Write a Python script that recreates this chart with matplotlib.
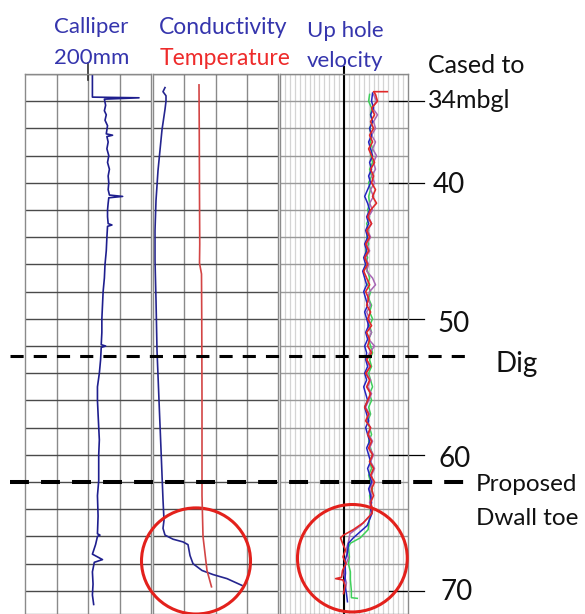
import numpy as np
import matplotlib
matplotlib.use("Agg")
import matplotlib.pyplot as plt
from matplotlib.patches import Ellipse
from matplotlib.transforms import blended_transform_factory

plt.rcParams["font.family"] = ["Lato", "DejaVu Sans"]

# Calliper log (depth m bgl, diameter mm)
cal_depth = [32.0, 33.7, 33.75, 33.85, 34.3, 34.7, 35.0, 35.4, 35.8, 36.4, 36.5, 36.6,
             37.0, 37.5, 38.0, 38.5, 39.0, 39.5, 40.0, 40.5, 40.9, 41.0, 41.1, 41.5,
             42.0, 42.5, 43.0, 43.1, 43.2, 44.0, 45.0, 46.0, 47.0, 48.0, 49.0, 50.0,
             51.0, 51.9, 52.0, 52.1, 53.0, 54.0, 55.0, 56.0, 57.0, 58.9, 60.0, 61.9,
             63.0, 64.5, 65.8, 65.9, 66.0, 66.6, 67.3, 67.7, 67.9, 68.6, 69.5, 70.3, 71.0]
cal_mm = [207, 207, 281, 226, 228, 226, 229, 227, 231, 229, 239, 230,
          232, 230, 233, 231, 234, 232, 233, 232, 234, 255, 233, 232,
          231, 231, 232, 238, 231, 230, 229, 227, 226, 224, 223, 222,
          222, 221, 228, 221, 220, 218, 215, 215, 216, 218, 217, 217,
          215, 216, 215, 219, 215, 212, 207, 223, 210, 207, 208, 207, 209]

# Conductivity (uS/cm)
cond_depth = [33.0, 33.3, 33.6, 34.0, 34.6, 36.1, 37.6, 39.1, 41.3, 43.5, 45.7, 48.6,
              52.3, 56.0, 59.6, 63.3, 64.8, 65.4, 65.9, 66.2, 66.4, 66.6, 67.4, 68.0,
              68.5, 68.8, 69.1, 69.6]
cond_val = [192, 160, 208, 208, 192, 144, 112, 80, 48, 32, 32, 48,
            64, 96, 128, 160, 176, 160, 192, 320, 480, 560, 592, 640,
            784, 960, 1184, 1424]

# Temperature (degC)
temp_depth = [32.8, 36.0, 41.0, 44.5, 45.9, 46.7, 50.0, 56.0, 63.0, 66.0, 68.5, 69.7]
temp_val = [13.84, 13.85, 13.86, 13.87, 13.86, 13.94, 13.95, 13.96, 13.96, 14.0, 14.16, 14.34]

# Up hole velocity, several runs (0.5 m steps from 33.5 to 63.5 m, then the base)
vel_depth = np.arange(33.5, 64.0, 0.5)
vel_red = [6.4, 6.8, 5.6, 6.2, 5.4, 6.0, 5.2, 5.8, 5.0, 5.6,
           6.2, 5.4, 6.0, 5.6, 6.4, 5.8, 6.6, 5.4, 4.8, 5.6,
           4.6, 5.2, 4.4, 5.0, 4.2, 4.8, 4.0, 4.6, 5.2, 4.4,
           5.0, 4.6, 5.4, 4.8, 5.6, 4.6, 5.2, 4.8, 5.6, 4.6,
           5.4, 4.4, 5.2, 4.6, 5.4, 4.8, 4.2, 5.0, 4.4, 5.4,
           4.8, 5.6, 5.0, 5.8, 5.2, 6.0, 5.4, 6.2, 5.6, 6.0,
           5.4]
vel_blue = [5.8, 5.6, 6.0, 5.4, 5.8, 5.2, 5.6, 5.0, 5.4, 5.8,
            5.2, 5.6, 5.0, 5.4, 4.8, 4.2, 4.8, 5.2, 4.6, 5.0,
            4.4, 4.8, 4.2, 4.6, 4.0, 4.4, 3.8, 4.2, 4.6, 4.0,
            4.4, 4.8, 4.2, 4.6, 5.0, 4.4, 4.8, 4.2, 4.6, 4.4,
            4.8, 4.2, 4.6, 4.0, 4.4, 4.8, 4.2, 4.6, 5.0, 4.4,
            4.8, 5.2, 4.6, 5.0, 5.4, 4.8, 5.2, 5.6, 5.0, 5.4,
            5.6]
vel_green = [5.2, 5.0, 5.6, 5.4, 5.8, 5.2, 5.6, 5.4, 5.8, 5.4,
             5.8, 5.2, 5.6, 5.0, 5.4, 5.0, 5.2, 4.8, 5.2, 4.6,
             5.0, 4.6, 5.0, 4.4, 4.8, 4.4, 4.8, 5.2, 4.8, 5.4,
             5.0, 5.6, 5.2, 5.8, 5.2, 5.6, 5.0, 5.4, 5.8, 5.2,
             5.6, 5.0, 5.4, 5.8, 5.2, 5.6, 5.0, 5.4, 4.8, 5.2,
             5.6, 5.0, 5.4, 5.8, 5.2, 5.6, 5.0, 5.4, 5.8, 5.2,
             5.4]
vel_purple = [6.0, 6.6, 5.8, 6.8, 6.0, 6.4, 5.6, 6.4, 5.8, 6.6,
              6.0, 6.4, 5.6, 6.2, 5.4, 6.0, 5.2, 5.8, 5.0, 5.6,
              4.8, 5.4, 4.6, 5.2, 4.4, 5.0, 4.6, 5.8, 6.4, 5.2,
              4.8, 5.4, 4.6, 5.2, 4.8, 5.6, 5.0, 6.2, 5.2, 4.6,
              5.2, 4.6, 5.4, 4.8, 5.6, 5.0, 4.4, 5.2, 4.6, 5.4,
              5.0, 5.8, 5.2, 6.0, 5.4, 6.2, 5.6, 5.8, 5.2, 5.6,
              5.2]

red_base_d = [64.0, 64.3, 65.0, 65.5, 65.9, 66.1, 66.5, 67.0, 67.5, 68.0, 68.5, 69.0, 69.1, 69.2, 69.6, 70.2]
red_base_v = [5.8, 5.7, 3.9, 1.9, -0.1, -0.7, -0.3, 0.3, -0.2, 0.4, -0.3, -0.5, -1.7, -0.2, 0.2, -0.1]
blue_base_d = [64.0, 64.3, 65.2, 66.1, 66.5, 67.2, 67.8, 68.7, 69.5, 70.2, 70.8]
blue_base_v = [5.4, 5.7, 4.7, 1.9, 0.9, 0.7, 0.2, 0.3, 0.1, 0.5, 0.7]
green_base_d = [64.0, 64.3, 65.5, 66.1, 66.5, 66.8, 67.5, 68.0, 68.6, 69.2, 70.0, 70.5, 70.55]
green_base_v = [5.4, 5.3, 4.9, 3.3, 1.3, 0.9, 1.1, 0.9, 1.3, 1.3, 1.5, 1.5, 2.7]
purple_base_d = [64.0, 64.5, 65.2, 65.8, 66.4, 67.0, 67.6, 68.2, 68.8, 69.4, 70.0]
purple_base_v = [5.6, 5.2, 3.4, 1.2, 0.9, 0.4, 0.9, 0.2, 0.0, 0.5, 0.3]

dig_depth = 52.7
toe_depth = 62.0
depth_marks = [34, 40, 50, 60, 70]

W, H = 585, 614
fig = plt.figure(figsize=(W / 100, H / 100), dpi=100)
top = 540 / H
ax1 = fig.add_axes([25 / W, 0, 126 / W, top])
ax2 = fig.add_axes([153 / W, 0, 125 / W, top])
ax3 = fig.add_axes([280 / W, 0, 128 / W, top])

for ax in (ax1, ax2, ax3):
    ax.set_ylim(71.7, 32)
    ax.set_yticks(np.arange(32, 72, 2))
    ax.tick_params(length=0, labelleft=False, labelbottom=False)
    ax.set_facecolor("none")
    for s in ax.spines.values():
        s.set_color("#8a8a8a")
        s.set_linewidth(1.0)

ax1.set_xlim(100, 300)
ax1.set_xticks([150, 200, 250])
ax2.set_xlim(0, 2000)
ax2.set_xticks([500, 1000, 1500])
for ax in (ax1, ax2):
    ax.grid(axis="x", color="#8a8a8a", lw=1.0)
    ax.grid(axis="y", color="#4a4a4a", lw=1.0)
    ax.set_axisbelow(True)

ax3.set_xlim(-13, 13)
ax3.set_xticks(np.arange(-12, 13, 1))
ax3.grid(axis="x", color="#d4d4d4", lw=0.9)
ax3.grid(axis="y", color="#9a9a9a", lw=1.0)
ax3.set_axisbelow(True)
ax3.set_zorder(3)

# calliper
ax1.plot(cal_mm, cal_depth, color="#1e1e8e", lw=1.2)
ax1.plot([200, 200], [31.2, 32.45], color="#303030", lw=1.2, clip_on=False)

# conductivity and temperature
ax2.plot(cond_val, cond_depth, color="#25258f", lw=1.2)
ax2t = ax2.twiny()
ax2t.set_xlim(12, 17)
ax2t.set_axis_off()
ax2t.plot(temp_val, temp_depth, color="#d34545", lw=1.2)

# velocity
ax3.axvline(0, ymin=0, ymax=1.013, color="black", lw=1.5, clip_on=False)
ax3.plot(vel_green + green_base_v, list(vel_depth) + green_base_d, color="#3ed05a", lw=1.1)
ax3.plot(vel_purple + purple_base_v, list(vel_depth) + purple_base_d, color="#a866b4", lw=1.1)
ax3.plot(vel_blue + blue_base_v, [33.4] + list(vel_depth[1:]) + blue_base_d, color="#2424c0", lw=1.1)
ax3.plot([8.8, 6.0] + vel_red + red_base_v, [33.3, 33.3] + list(vel_depth) + red_base_d,
         color="#e02828", lw=1.2)

# depth leader lines
bt = blended_transform_factory(fig.transFigure, ax3.transData)
for d in depth_marks:
    ax3.plot([389 / W, 424 / W], [d, d], color="black", lw=0.9, transform=bt, clip_on=False)

# dig and toe lines, drawn on the last axes so they sit on top
ax3.plot([10 / W, 473 / W], [dig_depth, dig_depth], color="black", lw=2.2,
         dashes=(4.3, 3.3), transform=bt, clip_on=False, zorder=5)
ax3.plot([10 / W, 467 / W], [toe_depth, toe_depth], color="black", lw=2.9,
         dashes=(4.7, 3.0), transform=bt, clip_on=False, zorder=5)

# red circles
ax2.add_patch(Ellipse((688, 67.8), 1744, 7.8, fill=False, ec="#e3211c", lw=2.2,
                      clip_on=False, zorder=6))
ax3.add_patch(Ellipse((1.7, 67.6), 22.3, 7.9, fill=False, ec="#e3211c", lw=2.2,
                      clip_on=False, zorder=6))

blue = "#3535ad"
red = "#ee2b2b"
hs = 16


def ftext(x, y, s, **kw):
    fig.text(x / W, 1 - y / H, s, va="baseline", ha="left", **kw)


ftext(54, 33, "Calliper", color=blue, fontsize=hs)
ftext(54, 64, "200mm", color=blue, fontsize=hs)
ftext(159, 34, "Conductivity", color=blue, fontsize=hs + 0.5)
ftext(160, 65, "Temperature", color=red, fontsize=hs + 0.5)
ftext(307, 37, "Up hole", color=blue, fontsize=hs)
ftext(307, 67, "velocity", color=blue, fontsize=hs)
ftext(428, 73, "Cased to", color="#111111", fontsize=18)
ftext(428, 108, "34mbgl", color="#111111", fontsize=18)
ftext(433, 193, "40", color="#111111", fontsize=20)
ftext(437, 332, "50", color="#111111", fontsize=20)
ftext(439, 467, "60", color="#111111", fontsize=20)
ftext(441, 600, "70", color="#111111", fontsize=20)
ftext(496, 372, "Dig", color="#111111", fontsize=20)
ftext(476, 491, "Proposed", color="#111111", fontsize=17.5)
ftext(476, 525, "Dwall toe", color="#111111", fontsize=17.5)

fig.savefig("out.png", dpi=100)
